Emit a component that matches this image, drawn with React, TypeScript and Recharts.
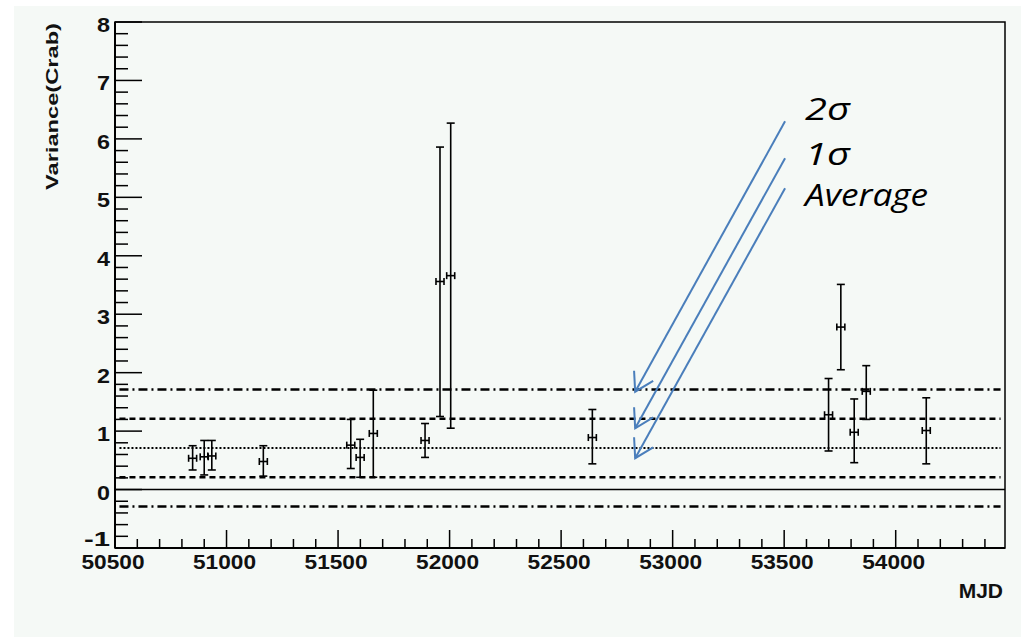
import React from 'react';
import { ScatterChart, Scatter, XAxis, YAxis, ErrorBar, ReferenceLine, ReferenceArea, Label } from 'recharts';

// readings
const mjd = [50848, 50900, 50934, 51165, 51557, 51599, 51658, 51890, 51957, 52005, 52640, 53699, 53754, 53814, 53868, 54137];
const mjdErr = [18, 18, 18, 18, 18, 18, 18, 18, 18, 18, 18, 18, 18, 18, 18, 18];
const variance = [0.535, 0.56, 0.575, 0.48, 0.76, 0.55, 0.96, 0.84, 3.56, 3.66, 0.89, 1.28, 2.78, 0.98, 1.68, 1.01];
const upper = [0.75, 0.84, 0.84, 0.75, 1.2, 0.86, 1.7, 1.13, 5.86, 6.27, 1.37, 1.9, 3.51, 1.55, 2.12, 1.57];
const lower = [0.335, 0.25, 0.335, 0.23, 0.36, 0.21, 0.21, 0.55, 1.25, 1.05, 0.44, 0.66, 2.05, 0.46, 1.2, 0.44];

const average = 0.71;
const sigma = 0.5;

const xMajorTicks = [50500, 51000, 51500, 52000, 52500, 53000, 53500, 54000];
const yMajorTicks = [-1, 0, 1, 2, 3, 4, 5, 6, 7, 8];

const arrowLabels = ['2\u03c3', '1\u03c3', 'Average'];
const arrowTails = [6.3, 5.67, 5.156];
const arrowTips = [1.675, 1.049, 0.536];

const X_DOMAIN = [50500, 54490];
const Y_DOMAIN = [-1, 8];

const subTicks = (start: number, end: number, step: number) => {
  const out: number[] = [];
  for (let v = start; v <= end + 1e-9; v += step) out.push(Math.round(v * 100) / 100);
  return out;
};
const xTicks = subTicks(50500, 54400, 100);
const yTicks = subTicks(-1, 8, 0.2);

const data = mjd.map((m, i) => ({
  x: m,
  y: variance[i],
  ex: mjdErr[i],
  ey: [variance[i] - lower[i], upper[i] - variance[i]],
}));

const rootFont = '"Liberation Sans", Arial, sans-serif';

const XTick = (props: any) => {
  const { x, y, payload } = props;
  const v = payload.value;
  const major = xMajorTicks.includes(v);
  return (
    <g>
      <line x1={x} x2={x} y1={y} y2={y - (major ? 18 : 9)} stroke="#000" strokeWidth={1.5} />
      {major && (
        <text x={x - 2} y={y + 21} textAnchor="middle" fontFamily={rootFont} fontWeight="bold"
          fontSize={19.5} textLength={63} lengthAdjust="spacingAndGlyphs" fill="#111">{v}</text>
      )}
    </g>
  );
};

const YTick = (props: any) => {
  const { x, y, payload } = props;
  const v = payload.value;
  const major = yMajorTicks.some((t) => Math.abs(t - v) < 1e-6);
  const s = String(Math.round(v));
  // the bottom label sits right on top of the first x label, nudge it up
  const dy = Math.round(v) === -1 ? -2 : 10;
  return (
    <g>
      <line x1={x} x2={x + (major ? 27 : 13)} y1={y} y2={y} stroke="#000" strokeWidth={1.5} />
      {major && (
        <text x={x - 5} y={y + dy} textAnchor="end" fontFamily={rootFont} fontWeight="bold"
          fontSize={19.5} textLength={s.length * 13} lengthAdjust="spacingAndGlyphs" fill="#111">{s}</text>
      )}
    </g>
  );
};

const labelOffsets = [-1, 7, 18];
const labelWidths = [45, 45, 123];

const arrowShape = (idx: number) => (props: any) => {
  const { x1, y1, x2, y2 } = props;
  // segment goes tail -> tip
  const ang = Math.atan2(y1 - y2, x1 - x2);
  const len = 21;
  const a1 = ang - (32 * Math.PI) / 180;
  const a2 = ang + (30 * Math.PI) / 180;
  return (
    <g>
      <line x1={x1} y1={y1} x2={x2} y2={y2} stroke="#4a7ebb" strokeWidth={2} />
      <polyline
        points={`${x2 + len * Math.cos(a1)},${y2 + len * Math.sin(a1)} ${x2},${y2} ${x2 + len * Math.cos(a2)},${y2 + len * Math.sin(a2)}`}
        fill="none" stroke="#4a7ebb" strokeWidth={2} />
      <text x={x1 + 20} y={y1 + labelOffsets[idx]} fontFamily='"Open Sans", "Noto Sans", sans-serif'
        fontStyle="italic" fontSize={31} textLength={labelWidths[idx]} lengthAdjust="spacingAndGlyphs"
        fill="#000">{arrowLabels[idx]}</text>
    </g>
  );
};

const levels = [
  { y: average + 2 * sigma, dash: '9 4 2 4', w: 2.5 },
  { y: average + sigma, dash: '6 4', w: 2.5 },
  { y: average, dash: '2 2', w: 2 },
  { y: average - sigma, dash: '6 4', w: 2.5 },
  { y: average - 2 * sigma, dash: '9 4 2 4', w: 2.5 },
];

export default function App() {
  return (
    <div style={{ position: 'fixed', left: 0, top: 0, width: 1021, height: 638, background: '#ffffff' }}>
      <div style={{ position: 'absolute', left: 14, top: 6, width: 1007, height: 631, background: '#f5f9f6' }} />
      <div style={{ position: 'absolute', left: 0, top: 0 }}>
        <ScatterChart width={1021} height={638} margin={{ top: 22, right: 16, bottom: 0, left: 0 }}>
          <XAxis type="number" dataKey="x" domain={X_DOMAIN} allowDataOverflow ticks={xTicks} interval={0}
            tickSize={0} tickMargin={0} height={90} tick={(p: any) => <XTick {...p} />}
            axisLine={{ stroke: '#000', strokeWidth: 2 }}>
            <Label content={(p: any) => (
              <text x={p.viewBox.x + p.viewBox.width - 2} y={p.viewBox.y + 50} textAnchor="end"
                fontFamily={rootFont} fontWeight="bold" fontSize={21} fill="#111">MJD</text>
            )} />
          </XAxis>
          <YAxis type="number" dataKey="y" domain={Y_DOMAIN} allowDataOverflow ticks={yTicks} interval={0}
            tickSize={0} tickMargin={0} width={115} tick={(p: any) => <YTick {...p} />}
            axisLine={{ stroke: '#000', strokeWidth: 2 }}>
            <Label content={(p: any) => (
              <text x={58} y={p.viewBox.y + 1} textAnchor="end" transform={`rotate(-90 58 ${p.viewBox.y + 1})`}
                fontFamily={rootFont} fontWeight="bold" fontSize={17} textLength={167}
                lengthAdjust="spacingAndGlyphs" fill="#111">Variance(Crab)</text>
            )} />
          </YAxis>
          <ReferenceArea x1={X_DOMAIN[0]} x2={X_DOMAIN[1]} y1={Y_DOMAIN[0]} y2={Y_DOMAIN[1]}
            fill="none" stroke="#000" strokeWidth={1.5} fillOpacity={0} />
          <ReferenceLine y={0} stroke="#000" strokeWidth={1.5} />
          {levels.map((l, i) => (
            <ReferenceLine key={i} segment={[{ x: 50520, y: l.y }, { x: 54470, y: l.y }]}
              stroke="#000" strokeWidth={l.w} strokeDasharray={l.dash} />
          ))}
          <Scatter data={data} fill="#000" isAnimationActive={false} shape={() => <g />}>
            <ErrorBar dataKey="ey" direction="y" width={4} stroke="#000" strokeWidth={1.6} isAnimationActive={false} />
            <ErrorBar dataKey="ex" direction="x" width={3.5} stroke="#000" strokeWidth={1.6} isAnimationActive={false} />
          </Scatter>
          {arrowTails.map((t, i) => (
            <ReferenceLine key={'a' + i} segment={[{ x: 53504, y: t }, { x: 52832, y: arrowTips[i] }]}
              ifOverflow="visible" shape={arrowShape(i)} />
          ))}
        </ScatterChart>
      </div>
    </div>
  );
}
